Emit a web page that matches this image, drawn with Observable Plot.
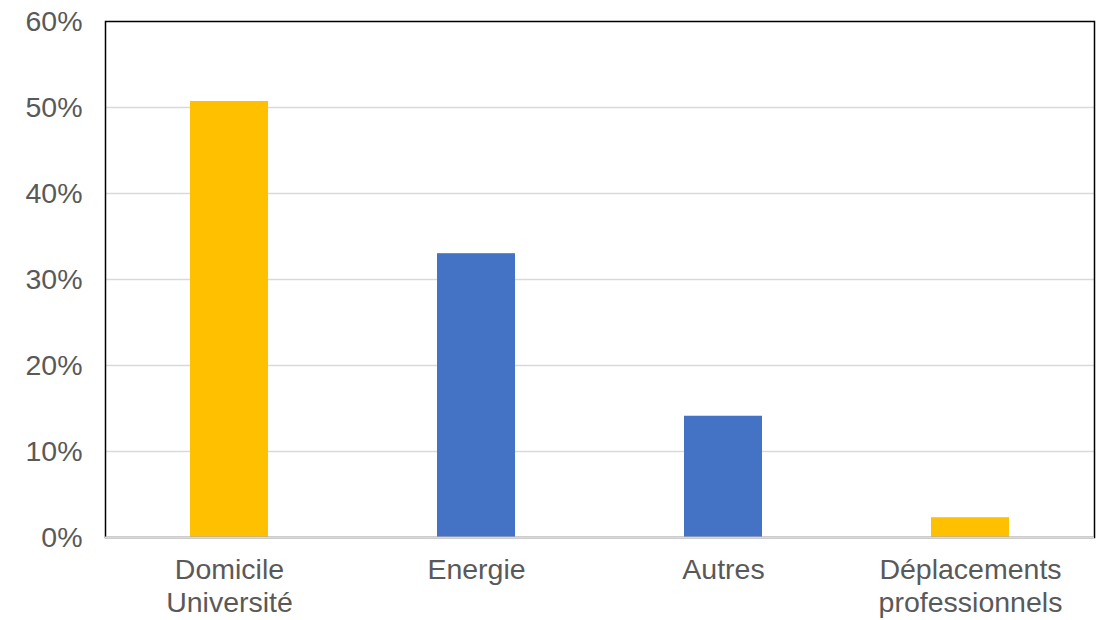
<!DOCTYPE html>
<html>
<head>
<meta charset="utf-8">
<script src="https://cdn.jsdelivr.net/npm/d3@7"></script>
<script src="https://cdn.jsdelivr.net/npm/@observablehq/plot@0.6"></script>
<style>
  html, body { margin: 0; padding: 0; background: #fff; }
  #chart { width: 1102px; height: 620px; }
</style>
</head>
<body>
<div id="chart"></div>
<script>
const categories = ["Domicile\nUniversité", "Energie", "Autres", "Déplacements\nprofessionnels"];
const values = [50.7, 33.0, 14.1, 2.3];
const groups = ["Transport", "Bâtiment", "Bâtiment", "Transport"];
const yTicks = [0, 10, 20, 30, 40, 50, 60];

const data = categories.map((c, i) => ({category: c, value: values[i], group: groups[i]}));

const chart = Plot.plot({
  width: 1102,
  height: 620,
  marginLeft: 105,
  marginRight: 8,
  marginTop: 21,
  marginBottom: 83,
  style: {fontFamily: "'Liberation Sans', Arial, sans-serif", background: "#fff"},
  x: {domain: categories, paddingInner: 0.685, paddingOuter: 0.3425, label: null},
  y: {domain: [0, 60], label: null},
  color: {domain: ["Transport", "Bâtiment"], range: ["#FFC000", "#4472C4"]},
  marks: [
    Plot.ruleY(yTicks.slice(1, -1), {stroke: "#D9D9D9", strokeWidth: 1.5}),
    Plot.barY(data, {x: "category", y: "value", fill: "group"}),
    Plot.frame({stroke: "#000", strokeWidth: 1.5}),
    Plot.ruleY([0], {stroke: "#D9D9D9", strokeWidth: 2}),
    Plot.axisY({ticks: yTicks, tickSize: 0, tickPadding: 23, tickFormat: d => d + "%", fontSize: 28.5, fill: "#595959", label: null}),
    Plot.axisX({tickSize: 0, tickPadding: 17, fontSize: 28.5, fill: "#595959", lineHeight: 1.19, label: null})
  ]
});
document.getElementById("chart").appendChild(chart);
</script>
</body>
</html>
